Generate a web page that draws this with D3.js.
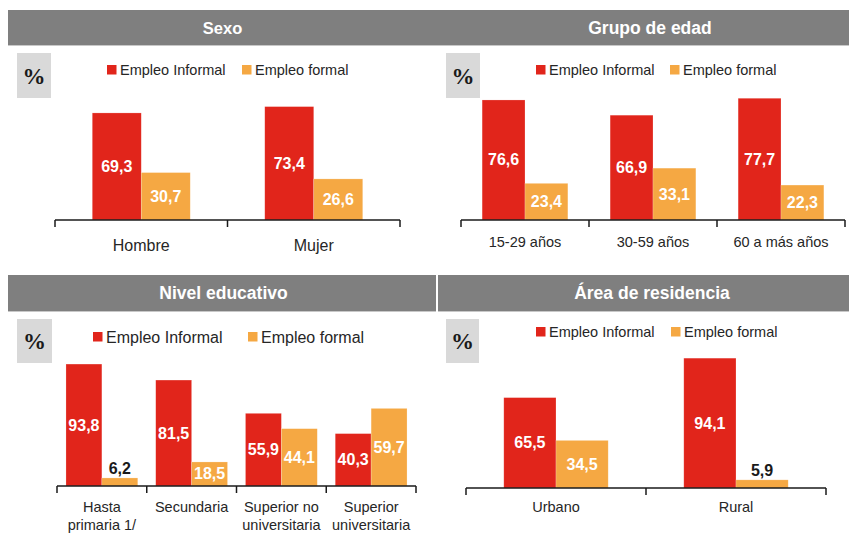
<!DOCTYPE html>
<html>
<head>
<meta charset="utf-8">
<script src="https://cdn.jsdelivr.net/npm/d3@7"></script>
<style>
  html, body { margin: 0; padding: 0; background: #ffffff; }
  svg { display: block; font-family: "Liberation Sans", Arial, sans-serif; }
</style>
</head>
<body>
<svg id="chart" width="849" height="533"></svg>
<script>
// ---- Data ----
const seriesNames = ["Empleo Informal", "Empleo formal"];

const sexoCats = [["Hombre"], ["Mujer"]];
const sexoInformal = [69.3, 73.4];
const sexoFormal = [30.7, 26.6];

const edadCats = [["15-29 años"], ["30-59 años"], ["60 a más años"]];
const edadInformal = [76.6, 66.9, 77.7];
const edadFormal = [23.4, 33.1, 22.3];

const eduCats = [["Hasta", "primaria 1/"], ["Secundaria"], ["Superior no", "universitaria"], ["Superior", "universitaria"]];
const eduInformal = [93.8, 81.5, 55.9, 40.3];
const eduFormal = [6.2, 18.5, 44.1, 59.7];

const areaCats = [["Urbano"], ["Rural"]];
const areaInformal = [65.5, 94.1];
const areaFormal = [34.5, 5.9];

const titles = ["Sexo", "Grupo de edad", "Nivel educativo", "Área de residencia"];

// ---- Styles / layout ----
const colors = { "Empleo Informal": "#e1251b", "Empleo formal": "#f5a843" };
const headerFill = "#7f7f7f";
const pctFill = "#d9d9d9";
const fmt = v => d3.format(".1f")(v).replace(".", ",");

const panels = [
  { title: titles[0], cats: sexoCats, inf: sexoInformal, form: sexoFormal,
    header: [8, 10, 429, 35], titleX: 222.5, titleFont: 16.5, pct: [17, 53, 34, 45],
    legY: 70, legX: [107, 242], legFont: 14.5,
    ax: [55, 400], baseY: 220, pxPerUnit: 1.545, frac: 0.568,
    catFont: 16, catY: 250.5, lineH: 18 },
  { title: titles[1], cats: edadCats, inf: edadInformal, form: edadFormal,
    header: [437, 10, 412, 35], titleX: 650, titleFont: 17.5, pct: [446, 53, 34, 45],
    legY: 70, legX: [536, 670], legFont: 14.5,
    ax: [461, 845], baseY: 220, pxPerUnit: 1.567, frac: 0.67,
    catFont: 14.5, catY: 247, lineH: 18 },
  { title: titles[2], cats: eduCats, inf: eduInformal, form: eduFormal,
    header: [8, 275, 428, 36], titleX: 223.5, titleFont: 17.5, pct: [17, 319, 35, 44],
    legY: 337, legX: [93, 248], legFont: 16,
    ax: [57, 416], baseY: 486, pxPerUnit: 1.30, frac: 0.8,
    catFont: 14.5, catY: 512, lineH: 18 },
  { title: titles[3], cats: areaCats, inf: areaInformal, form: areaFormal,
    header: [438, 275, 411, 36], titleX: 652, titleFont: 17.5, pct: [446, 319, 33, 44],
    legY: 332, legX: [536, 671], legFont: 14.5,
    ax: [466, 826], baseY: 488, pxPerUnit: 1.38, frac: 0.58,
    catFont: 14.5, catY: 512, lineH: 18 }
];

const svg = d3.select("#chart");

panels.forEach(p => {
  const g = svg.append("g");

  // Header
  g.append("rect")
    .attr("x", p.header[0]).attr("y", p.header[1])
    .attr("width", p.header[2]).attr("height", p.header[3])
    .attr("fill", headerFill);
  g.append("line")
    .attr("x1", p.header[0]).attr("x2", p.header[0] + p.header[2])
    .attr("y1", p.header[1] + p.header[3] + 0.5).attr("y2", p.header[1] + p.header[3] + 0.5)
    .attr("stroke", "#c8c8c8").attr("stroke-width", 1);
  g.append("text")
    .attr("x", p.titleX).attr("y", p.header[1] + p.header[3] / 2 + 6)
    .attr("text-anchor", "middle")
    .attr("fill", "#ffffff").attr("font-weight", "bold").attr("font-size", p.titleFont)
    .text(p.title);

  // Percent box
  g.append("rect")
    .attr("x", p.pct[0]).attr("y", p.pct[1])
    .attr("width", p.pct[2]).attr("height", p.pct[3])
    .attr("fill", pctFill);
  g.append("text")
    .attr("x", p.pct[0] + p.pct[2] / 2).attr("y", p.pct[1] + p.pct[3] / 2 + 8)
    .attr("text-anchor", "middle")
    .attr("font-family", "'Liberation Serif', 'Times New Roman', serif")
    .attr("font-weight", "bold").attr("font-size", 23).attr("fill", "#1a1a1a")
    .text("%");

  // Legend
  seriesNames.forEach((s, i) => {
    g.append("rect")
      .attr("x", p.legX[i]).attr("y", p.legY - 5)
      .attr("width", 9.5).attr("height", 9.5)
      .attr("fill", colors[s]);
    g.append("text")
      .attr("x", p.legX[i] + 13).attr("y", p.legY + p.legFont * 0.36)
      .attr("font-size", p.legFont).attr("fill", "#262626")
      .text(s);
  });

  // Scales
  const catKeys = p.cats.map(c => c.join(" "));
  const x0 = d3.scaleBand().domain(catKeys).range(p.ax).padding(0);
  const y = d3.scaleLinear().domain([0, 100]).range([p.baseY, p.baseY - 100 * p.pxPerUnit]);

  const data = catKeys.map((k, i) => ({ key: k, lines: p.cats[i], vals: [p.inf[i], p.form[i]] }));

  const groups = g.selectAll("g.cat").data(data).join("g").attr("class", "cat");
  groups.each(function (d) {
    const gg = d3.select(this);
    const bw = x0.bandwidth();
    const center = x0(d.key) + bw / 2;
    const gw = bw * p.frac;
    const x1 = d3.scaleBand().domain(seriesNames).range([center - gw / 2, center + gw / 2]).padding(0);
    seriesNames.forEach((s, si) => {
      const v = d.vals[si];
      const bx = x1(s), bwid = x1.bandwidth();
      const top = y(v), h = y(0) - y(v);
      gg.append("rect")
        .attr("x", bx).attr("y", top)
        .attr("width", bwid).attr("height", h)
        .attr("fill", colors[s])
        .attr("stroke", "#ffffff").attr("stroke-opacity", 0.35).attr("stroke-width", 0.6);
      const inside = h >= 16;
      gg.append("text")
        .attr("x", bx + bwid / 2)
        .attr("y", inside ? top + h / 2 + 5.5 : top - 3.5)
        .attr("text-anchor", "middle")
        .attr("font-weight", "bold").attr("font-size", 16)
        .attr("fill", inside ? "#ffffff" : "#1a1a1a")
        .text(fmt(v));
    });
  });

  // Axis
  const axis = d3.axisBottom(x0).tickSize(0).tickFormat("");
  const axG = g.append("g").attr("transform", `translate(0,${p.baseY})`).call(axis);
  axG.select(".domain").attr("stroke", "#1a1a1a").attr("stroke-width", 1.5)
    .attr("d", `M${p.ax[0]},0H${p.ax[1]}`);
  axG.selectAll(".tick").remove();
  const bounds = catKeys.map(k => x0(k)).concat([p.ax[1]]);
  axG.selectAll("line.sep").data(bounds).join("line").attr("class", "sep")
    .attr("x1", d => d).attr("x2", d => d)
    .attr("y1", 0).attr("y2", 7)
    .attr("stroke", "#1a1a1a").attr("stroke-width", 1.5);

  // Category labels
  data.forEach(d => {
    const t = g.append("text")
      .attr("x", x0(d.key) + x0.bandwidth() / 2)
      .attr("y", p.catY)
      .attr("text-anchor", "middle")
      .attr("font-size", p.catFont).attr("fill", "#262626");
    d.lines.forEach((ln, li) => {
      t.append("tspan")
        .attr("x", x0(d.key) + x0.bandwidth() / 2)
        .attr("dy", li === 0 ? 0 : p.lineH)
        .text(ln);
    });
  });
});
</script>
</body>
</html>
